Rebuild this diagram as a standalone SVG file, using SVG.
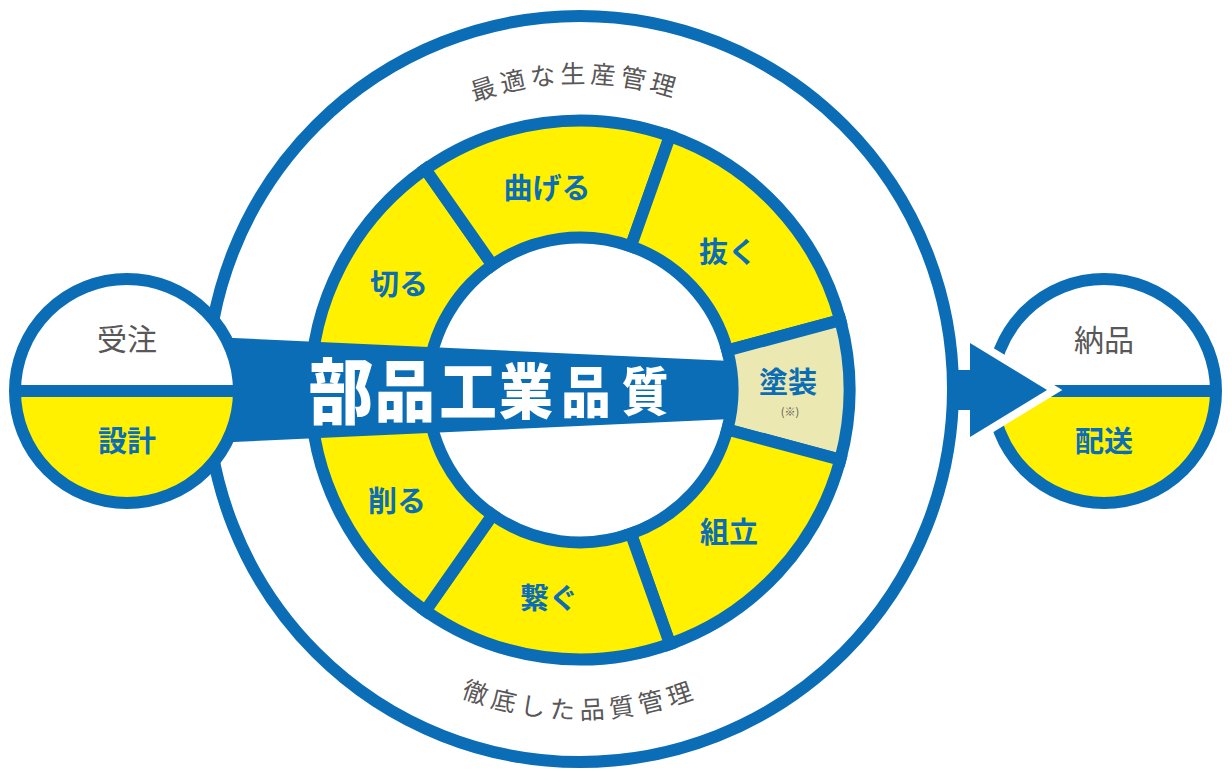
<svg xmlns="http://www.w3.org/2000/svg" width="1232" height="781" viewBox="0 0 1232 781">
<style>
.ln{fill:none;stroke:#0a6db5;stroke-width:12}
.seg{fill:#fff100;stroke:#0a6db5;stroke-width:12;stroke-linejoin:miter}
.seg.paint{fill:#ebe9b1}
.lbl{font-family:"Noto Sans CJK JP","Noto Sans",sans-serif;font-weight:700;font-size:29px;fill:#0a6db5;text-anchor:middle}
.gry{font-family:"Noto Sans CJK JP","Noto Sans",sans-serif;font-weight:400;fill:#595757;text-anchor:middle}
.yel{fill:#fff100}
.blue{fill:#0a6db5}
</style>
<defs>
<path id="arcTop" d="M 273 390 A 307 307 0 0 1 887 390"/>
<path id="arcBot" d="M 251 390 A 329 329 0 0 0 909 390"/>
</defs>

<g id="outer-circle">
<circle class="ln" cx="580" cy="389" r="373"/>
<text class="gry" font-size="25" letter-spacing="4.5"><textPath href="#arcTop" startOffset="49.5%">最適な生産管理</textPath></text>
<text class="gry" font-size="25" letter-spacing="5.5"><textPath href="#arcBot" startOffset="50%">徹底した品質管理</textPath></text>
</g>

<g id="seg-kiru">
<path class="seg" d="M 310.5 390 A 269.5 269.5 0 0 1 425.4 169.2 L 492.5 265.1 A 152.5 152.5 0 0 0 427.5 390 Z"/>
<text class="lbl" x="399" y="295">切る</text>
</g>
<g id="seg-mageru">
<path class="seg" d="M 425.4 169.2 A 269.5 269.5 0 0 1 670.0 136.0 L 630.9 246.3 A 152.5 152.5 0 0 0 492.5 265.1 Z"/>
<text class="lbl" x="547" y="199">曲げる</text>
</g>
<g id="seg-nuku">
<path class="seg" d="M 670.0 136.0 A 269.5 269.5 0 0 1 840.3 320.2 L 727.3 350.5 A 152.5 152.5 0 0 0 630.9 246.3 Z"/>
<text class="lbl" x="728" y="263">抜く</text>
</g>
<g id="seg-tosou">
<path class="seg paint" d="M 840.3 320.2 A 269.5 269.5 0 0 1 840.3 459.8 L 727.3 429.5 A 152.5 152.5 0 0 0 727.3 350.5 Z"/>
<text class="lbl" x="788" y="393">塗装</text>
<text class="gry" x="790" y="416" font-size="11">(※)</text>
</g>
<g id="seg-kumitate">
<path class="seg" d="M 840.3 459.8 A 269.5 269.5 0 0 1 670.0 644.0 L 630.9 533.7 A 152.5 152.5 0 0 0 727.3 429.5 Z"/>
<text class="lbl" x="729" y="543">組立</text>
</g>
<g id="seg-tsunagu">
<path class="seg" d="M 670.0 644.0 A 269.5 269.5 0 0 1 425.4 610.8 L 492.5 514.9 A 152.5 152.5 0 0 0 630.9 533.7 Z"/>
<text class="lbl" x="549" y="609">繋ぐ</text>
</g>
<g id="seg-kezuru">
<path class="seg" d="M 425.4 610.8 A 269.5 269.5 0 0 1 310.5 390 L 427.5 390 A 152.5 152.5 0 0 0 492.5 514.9 Z"/>
<text class="lbl" x="397" y="512">削る</text>
</g>

<g id="title-band">
<polygon class="blue" points="200,336.5 731,361 731,419 200,443.5"/>
<text transform="matrix(0.9 0 0 1 0 0)" font-family="'Noto Sans CJK JP','Noto Sans',sans-serif" font-weight="900" fill="#ffffff" text-anchor="middle"><tspan x="378.9" y="418.4" font-size="72">部</tspan><tspan x="450" y="416.5" font-size="67">品</tspan><tspan x="520" y="415.3" font-size="64">工</tspan><tspan x="584.4" y="413.8" font-size="60">業</tspan><tspan x="651.1" y="411.9" font-size="55">品</tspan><tspan x="716.7" y="410.8" font-size="52">質</tspan></text>
</g>

<g id="node-juchu">
<circle cx="127" cy="391" r="112" fill="#ffffff"/>
<path class="yel" d="M 15 391 A 112 112 0 0 0 239 391 Z"/>
<circle class="ln" cx="127" cy="391" r="112"/>
<line class="ln" x1="15" y1="391" x2="239" y2="391"/>
<text class="gry" x="127" y="350" font-size="30">受注</text>
<text class="lbl" x="127" y="452" font-size="30">設計</text>
</g>

<g id="node-nouhin">
<circle cx="1104" cy="391" r="112" fill="#ffffff"/>
<path class="yel" d="M 992 391 A 112 112 0 0 0 1216 391 Z"/>
<circle class="ln" cx="1104" cy="391" r="112"/>
<line class="ln" x1="992" y1="391" x2="1216" y2="391"/>
<text class="gry" x="1104" y="351" font-size="30">納品</text>
<text class="lbl" x="1104" y="452" font-size="30">配送</text>
</g>

<g id="connectors">
<polygon points="970,343 1047,390 970,437" fill="#0a6db5" stroke="#ffffff" stroke-width="16" stroke-linejoin="miter" stroke-miterlimit="10" paint-order="stroke"/>
<rect class="blue" x="953" y="370" width="24" height="40"/>
</g>
</svg>
